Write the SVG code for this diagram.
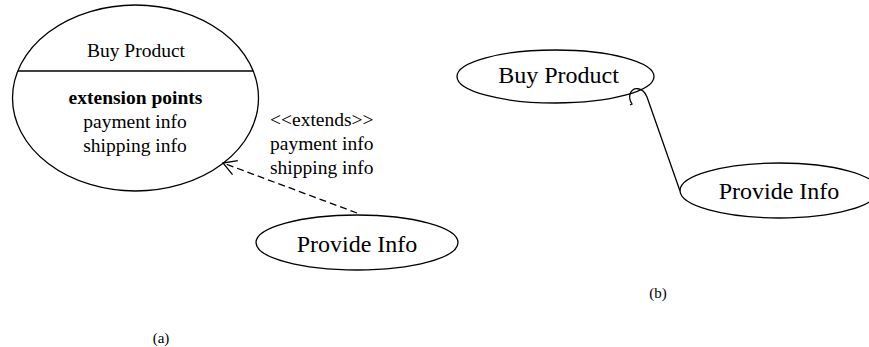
<svg xmlns="http://www.w3.org/2000/svg" width="869" height="347" viewBox="0 0 869 347">
<style>
.n{fill:#fff;stroke:#000;stroke-width:1.3}
.t{font-family:"Liberation Serif","Times New Roman",serif;fill:#000}
.s{font-size:19.5px}
.b{font-size:24px}
.c{text-anchor:middle}
.e{fill:none;stroke:#000;stroke-width:1.3}
</style>
<defs>
<marker id="open" markerWidth="20" markerHeight="20" refX="15" refY="8" orient="auto" markerUnits="userSpaceOnUse">
<path d="M2,0.5 L15,8 L2,15.5" fill="none" stroke="#000" stroke-width="1.3"/>
</marker>
</defs>
<rect width="869" height="347" fill="#fff"/>
<g id="buy-product-a">
<ellipse class="n" cx="135.5" cy="98" rx="123" ry="93"/>
<line x1="18" y1="71" x2="253" y2="71" stroke="#000" stroke-width="1.3"/>
<text class="t s c" x="136" y="57">Buy Product</text>
<text class="t s c" x="135.5" y="104" font-weight="bold">extension points</text>
<text class="t s c" x="135" y="128">payment info</text>
<text class="t s c" x="135" y="152">shipping info</text>
</g>
<g id="provide-info-a">
<ellipse class="n" cx="357" cy="242.5" rx="101" ry="27.5"/>
<text class="t b c" x="357" y="252">Provide Info</text>
</g>
<g id="buy-product-b">
<ellipse class="n" cx="555.5" cy="76.5" rx="98.5" ry="26.5"/>
<text class="t b c" x="558.5" y="83">Buy Product</text>
</g>
<g id="provide-info-b">
<ellipse class="n" cx="779" cy="190.5" rx="99" ry="27.5"/>
<text class="t b c" x="779" y="199">Provide Info</text>
</g>
<g id="connectors">
<line class="e" x1="357" y1="213" x2="223" y2="163" stroke-dasharray="7 4" marker-end="url(#open)"/>
<text class="t s" x="270" y="126">&lt;&lt;extends&gt;&gt;</text>
<text class="t s" x="270" y="150">payment info</text>
<text class="t s" x="270" y="174">shipping info</text>
<path class="e" d="M680,191 L647,97 C643,87 633,86 630,94 C629,98 630,101 632,104 L630,105"/>
</g>
<text class="t c" x="161" y="343" font-size="15">(a)</text>
<text class="t c" x="658" y="298" font-size="15">(b)</text>
</svg>
